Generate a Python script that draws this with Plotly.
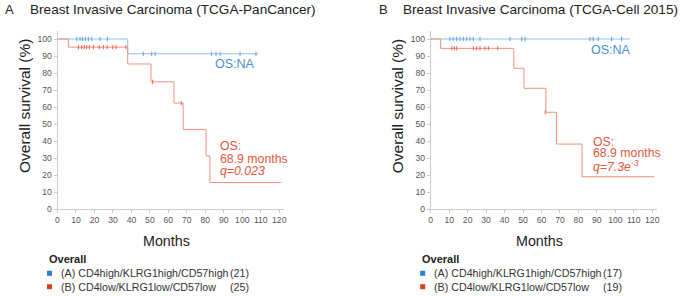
import plotly.graph_objects as go

W, H = 689, 296

# ---------------- data ----------------
# Panel A (TCGA-PanCancer)
a_blue_t = [0, 38.0, 108.6]
a_blue_s = [100, 91.3, 91.3]
a_blue_cens_t = [10.4, 12.2, 13.6, 15.1, 16.7, 18.5, 23.0, 27.0,
                 46.4, 51.0, 52.8, 83.4, 85.8, 88.0, 98.8, 107.4]
a_blue_cens_s = [100] * 8 + [91.3] * 8

a_red_t = [0, 5.9, 38.0, 50.6, 63.0, 68.0, 80.4, 82.5, 121.0]
a_red_s = [100, 95.2, 85.3, 74.8, 62.3, 46.7, 31.2, 15.6, 15.6]
a_red_cens_t = [11.3, 13.1, 14.5, 15.8, 17.2, 19.4, 22.6, 24.8, 26.9, 29.9, 31.7, 37.0,
                51.5, 67.0]
a_red_cens_s = [95.2] * 12 + [74.8, 62.3]

# Panel B (TCGA-Cell 2015)
b_blue_t = [0, 107.9]
b_blue_s = [100, 100]
b_blue_cens_t = [10.4, 12.2, 14.1, 15.9, 17.7, 19.5, 21.3, 23.1, 26.7,
                 42.9, 49.3, 51.1, 86.2, 88.0, 90.7, 98.0, 103.4]
b_blue_cens_s = [100] * 17

b_red_t = [0, 5.4, 45.0, 50.5, 62.4, 68.2, 82.0, 121.0]
b_red_s = [100, 94.5, 82.8, 71.0, 56.9, 38.2, 19.0, 19.0]
b_red_cens_t = [11.4, 12.8, 14.1, 23.1, 24.9, 26.7, 29.4, 31.2, 36.3, 62.0]
b_red_cens_s = [94.5] * 9 + [56.9]

x_ticks = list(range(0, 121, 10))
y_ticks = list(range(0, 101, 10))

titles = ["Breast Invasive Carcinoma (TCGA-PanCancer)", "Breast Invasive Carcinoma (TCGA-Cell 2015)"]
letters = ["A", "B"]
legend_labels = ["(A) CD4high/KLRG1high/CD57high", "(B) CD4low/KLRG1low/CD57low"]
counts = [["(21)", "(25)"], ["(17)", "(19)"]]
os_median = ["68.9 months", "68.9 months"]
q_text = ["<i>q=0.023</i>", "<i>q=7.3e<sup>-3</sup></i>"]

# ---------------- styling ----------------
BLUE_LINE = "#93c0ea"
RED_LINE = "#ee9280"
BLUE_MK = "#5a9ee0"
RED_MK = "#e2654c"
BLUE_TXT = "#4a90d6"
RED_TXT = "#e4583e"
BLUE_SQ = "#2a7fd4"
RED_SQ = "#d8401c"
FONT = "Liberation Sans, Arial, sans-serif"


def px(x):
    return x / W


def py(y):
    return 1 - y / H


fig = go.Figure()

panels = [
    (a_blue_t, a_blue_s, a_blue_cens_t, a_blue_cens_s, a_red_t, a_red_s, a_red_cens_t, a_red_cens_s),
    (b_blue_t, b_blue_s, b_blue_cens_t, b_blue_cens_s, b_red_t, b_red_s, b_red_cens_t, b_red_cens_s),
]

for i, (bt, bs, bct, bcs, rt, rs, rct, rcs) in enumerate(panels):
    xa = "x" if i == 0 else "x2"
    ya = "y" if i == 0 else "y2"
    fig.add_trace(go.Scatter(x=bt, y=bs, mode="lines", line=dict(color=BLUE_LINE, width=1, shape="hv"),
                             xaxis=xa, yaxis=ya, showlegend=False, hoverinfo="skip"))
    fig.add_trace(go.Scatter(x=rt, y=rs, mode="lines", line=dict(color=RED_LINE, width=1, shape="hv"),
                             xaxis=xa, yaxis=ya, showlegend=False, hoverinfo="skip"))
    fig.add_trace(go.Scatter(x=bct, y=bcs, mode="markers",
                             marker=dict(symbol="line-ns", size=3, line=dict(color=BLUE_MK, width=1)),
                             xaxis=xa, yaxis=ya, showlegend=False, hoverinfo="skip"))
    fig.add_trace(go.Scatter(x=rct, y=rcs, mode="markers",
                             marker=dict(symbol="line-ns", size=3, line=dict(color=RED_MK, width=1)),
                             xaxis=xa, yaxis=ya, showlegend=False, hoverinfo="skip"))

axis_common = dict(showgrid=False, zeroline=False, showline=True, linecolor="#cccccc", linewidth=1,
                   ticks="outside", ticklen=3, tickcolor="#cccccc", automargin=False,
                   tickfont=dict(family=FONT, size=8.6, color="#555555"))

ydom = [py(209), py(30.5)]
fig.update_layout(
    width=W, height=H, margin=dict(l=0, r=0, t=0, b=0, pad=0),
    paper_bgcolor="white", plot_bgcolor="white",
    xaxis=dict(domain=[px(57.5), px(283.5)], range=[0, 122.3], tickvals=x_ticks, anchor="y", **axis_common),
    yaxis=dict(domain=ydom, range=[0, 105], tickvals=y_ticks, anchor="x", **axis_common),
    xaxis2=dict(domain=[px(430.7), px(656.5)], range=[0, 122.3], tickvals=x_ticks, anchor="y2", **axis_common),
    yaxis2=dict(domain=ydom, range=[0, 105], tickvals=y_ticks, anchor="x2", **axis_common),
)

anns = []
shapes = []


def txt(x, y, s, size, color="#222", xanchor="left", angle=0):
    anns.append(dict(x=px(x), y=py(y), xref="paper", yref="paper", text=s, showarrow=False,
                     xanchor=xanchor, yanchor="middle", textangle=angle,
                     font=dict(family=FONT, size=size, color=color)))


offsets = [0, 373.2]
for i in range(2):
    ox = offsets[i]
    txt(3 + ox + (1 if i else 0), 9.5, letters[i], 13)
    txt(28 + ox, 9.5, titles[i], 13.6)
    txt(24 + ox, 106, "Overall survival (%)", 15.5, xanchor="center", angle=-90)
    txt(166.7 + ox, 240.5, "Months", 14.3, xanchor="center")
    txt(46.5 + ox, 259, "<b>Overall</b>", 11)
    for k, col in enumerate([BLUE_SQ, RED_SQ]):
        yy = 273.3 + 13.4 * k
        shapes.append(dict(type="rect", xref="paper", yref="paper",
                           x0=px(47 + ox), x1=px(52 + ox), y0=py(yy + 2.5), y1=py(yy - 2.5),
                           fillcolor=col, line=dict(width=0)))
        txt(58.5 + ox, yy, legend_labels[k], 10.7, color="#333")
        txt(251 + ox, yy, counts[i][k], 10.7, color="#333", xanchor="right")

# OS annotations
txt(213, 64.3, "OS:NA", 12.5, color=BLUE_TXT)
txt(589.3, 50, "OS:NA", 12.5, color=BLUE_TXT)
red_pos = [(218.3, [146.2, 158.8, 170.8]), (590.7, [141.7, 153.5, 165.7])]
for i, (xl, ys) in enumerate(red_pos):
    txt(xl, ys[0], "OS:", 12.3, color=RED_TXT)
    txt(xl, ys[1], os_median[i], 12.3, color=RED_TXT)
    txt(xl, ys[2], q_text[i], 12.3, color=RED_TXT)

fig.update_layout(annotations=anns, shapes=shapes)
fig.write_html("out.html", config={"displayModeBar": False},
               post_script="document.body.style.margin='0';document.body.style.overflow='hidden';")
